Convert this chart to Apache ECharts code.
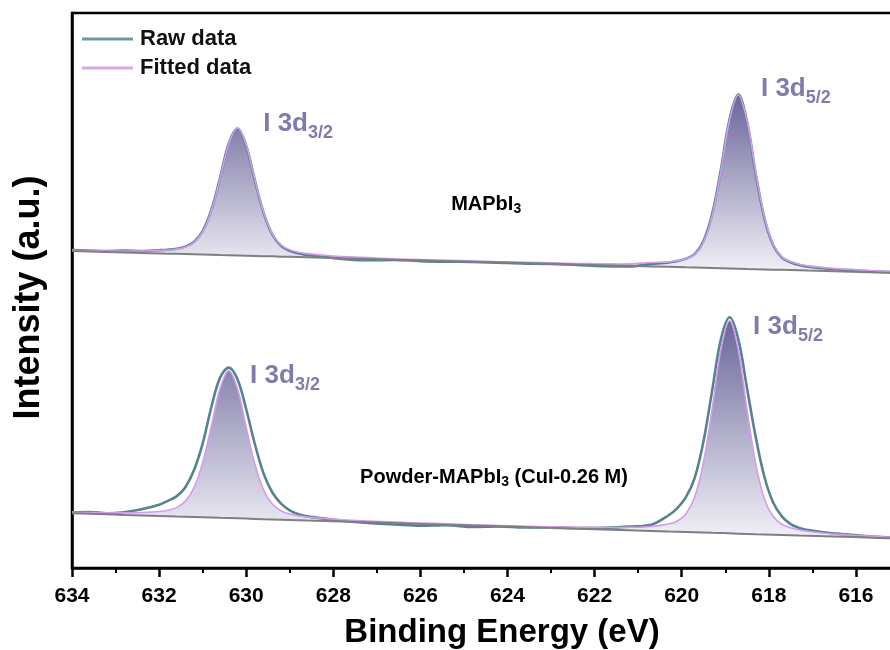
<!DOCTYPE html>
<html>
<head>
<meta charset="utf-8">
<script src="https://cdn.jsdelivr.net/npm/echarts@6/dist/echarts.min.js"></script>
<style>
  html, body { margin: 0; padding: 0; background: #fff; overflow: hidden; width: 890px; height: 650px; }
  /* the plot frame runs past the right edge of the page, as in the original figure */
  #chart { width: 943px; height: 650px; }
</style>
</head>
<body>
<div id="chart"></div>
<script>
// I 3d core-level XPS spectra: binding energy grid (eV)
const energy = [
  634.0, 633.6, 633.2, 632.8, 632.4, 632.0, 631.8, 631.6, 631.4, 631.2,
  631.0, 630.8, 630.6, 630.4, 630.2, 630.0, 629.8, 629.6, 629.4, 629.2,
  629.0, 628.8, 628.6, 628.2, 627.8, 627.2, 626.6, 626.0, 625.4, 624.8,
  624.2, 623.6, 623.0, 622.4, 621.8, 621.2, 620.7, 620.3, 620.1, 619.9,
  619.7, 619.5, 619.3, 619.1, 618.9, 618.7, 618.5, 618.3, 618.1, 617.9,
  617.7, 617.5, 617.3, 617.1, 616.7, 616.3, 615.9, 615.5, 615.0
];

// MAPbI3 (offset trace)
const rawTop = [
  57.30, 57.22, 57.10, 57.18, 57.12, 57.26, 57.35, 57.52, 57.90, 58.75,
  60.70, 64.50, 70.30, 76.50, 79.20, 76.10, 69.80, 64.00, 60.10, 58.05,
  57.15, 56.70, 56.40, 56.05, 55.70, 55.45, 55.50, 55.30, 55.20, 55.15,
  55.00, 54.85, 54.80, 54.60, 54.40, 54.35, 54.75, 55.05, 55.30, 55.75,
  56.55, 58.90, 63.80, 71.80, 80.90, 85.30, 80.40, 71.00, 63.00, 58.20,
  55.95, 55.10, 54.60, 54.30, 53.95, 53.75, 53.60, 53.40, 53.30
];
const fitTop = [
  57.23, 57.18, 57.13, 57.12, 57.13, 57.20, 57.29, 57.46, 57.81, 58.63,
  60.56, 64.34, 70.12, 76.36, 79.31, 76.27, 69.95, 64.08, 60.22, 58.22,
  57.32, 56.89, 56.64, 56.34, 56.13, 55.92, 55.72, 55.56, 55.45, 55.31,
  55.19, 55.07, 54.97, 54.87, 54.81, 54.79, 55.04, 55.16, 55.37, 55.72,
  56.47, 58.69, 63.49, 71.48, 80.68, 85.23, 80.59, 71.31, 63.24, 58.36,
  56.06, 55.18, 54.74, 54.44, 54.11, 53.88, 53.68, 53.52, 53.38
];
const bgTop = [
  57.10, 57.02, 56.93, 56.85, 56.77, 56.68, 56.64, 56.60, 56.56, 56.52,
  56.48, 56.44, 56.39, 56.35, 56.31, 56.27, 56.23, 56.19, 56.15, 56.10,
  56.06, 56.02, 55.98, 55.90, 55.81, 55.69, 55.56, 55.44, 55.32, 55.19,
  55.07, 54.94, 54.82, 54.69, 54.57, 54.44, 54.34, 54.26, 54.22, 54.17,
  54.13, 54.09, 54.05, 54.01, 53.97, 53.93, 53.88, 53.84, 53.80, 53.76,
  53.72, 53.68, 53.64, 53.59, 53.51, 53.43, 53.35, 53.26, 53.16
];

// Powder-MAPbI3 (CuI-0.26 M)
const rawBottom = [
  10.05, 10.10, 9.85, 10.05, 10.60, 11.40, 12.10, 12.90, 14.50, 17.60,
  22.40, 29.00, 34.30, 36.10, 34.00, 28.60, 22.30, 17.00, 13.60, 11.60,
  10.40, 9.70, 9.30, 8.90, 8.50, 8.10, 7.85, 7.60, 7.70, 7.40,
  7.50, 7.30, 7.35, 7.20, 7.25, 7.45, 7.80, 9.50, 10.80, 12.80,
  16.30, 22.80, 32.00, 41.20, 45.17, 41.20, 32.40, 23.60, 16.40, 11.80,
  9.30, 7.90, 7.20, 6.85, 6.40, 6.10, 5.85, 5.60, 5.42
];
const fitBottom = [
  10.03, 9.97, 9.95, 9.94, 10.01, 10.19, 10.41, 10.88, 12.00, 14.44,
  18.97, 25.55, 32.39, 35.55, 32.30, 25.36, 18.68, 14.05, 11.52, 10.31,
  9.74, 9.42, 9.20, 8.91, 8.69, 8.47, 8.28, 8.11, 7.96, 7.80,
  7.66, 7.53, 7.43, 7.35, 7.29, 7.33, 7.49, 7.92, 8.47, 9.76,
  12.83, 19.01, 28.72, 39.42, 44.56, 39.32, 28.53, 18.72, 12.45, 9.28,
  7.89, 7.25, 6.87, 6.63, 6.27, 6.02, 5.83, 5.66, 5.50
];
const bgBottom = [
  9.86, 9.76, 9.67, 9.57, 9.48, 9.38, 9.33, 9.28, 9.24, 9.19,
  9.14, 9.09, 9.04, 9.00, 8.95, 8.90, 8.85, 8.80, 8.76, 8.71,
  8.66, 8.61, 8.56, 8.47, 8.37, 8.23, 8.09, 7.94, 7.80, 7.65,
  7.51, 7.37, 7.22, 7.08, 6.93, 6.79, 6.67, 6.57, 6.53, 6.48,
  6.43, 6.38, 6.33, 6.29, 6.24, 6.19, 6.14, 6.09, 6.05, 6.00,
  5.95, 5.90, 5.85, 5.81, 5.71, 5.61, 5.52, 5.42, 5.30
];

// Peak annotations: [binding energy, intensity, text, subscript]
const peakLabels = [
  [629.61, 79.6, 'I 3d', '3/2'],
  [618.18, 85.9, 'I 3d', '5/2'],
  [629.91, 34.2, 'I 3d', '3/2'],
  [618.36, 43.0, 'I 3d', '5/2']
];
// Sample names: [binding energy, intensity, text, subscript, trailing text]
const sampleLabels = [
  [624.49, 65.4, 'MAPbI', '3', ''],
  [624.31, 16.2, 'Powder-MAPbI', '3', ' (CuI-0.26 M)']
];

const FONT = 'Arial, "Liberation Sans", Helvetica, sans-serif';
const RAW_COLOR = '#56838f';
const FIT_COLOR = '#d39cee';
const BG_COLOR = '#7f7f7f';
const PEAK_TEXT = '#5e5a98';
const SMOOTH = 0.35;

const rows = (fit, bg) => energy.map((e, i) => [e, fit[i], bg[i]]);
const pairs = ys => energy.map((e, i) => [e, ys[i]]);

// Filled envelope between the fitted curve and the background
function fillSeries(key, fit, bg) {
  return {
    type: 'custom', name: 'fill-' + key, silent: true, z: 1, clip: true,
    data: rows(fit, bg),
    encode: { x: 0, y: [1, 2] },
    renderItem(params, api) {
      if (params.dataIndex !== 0) return null;
      const upper = energy.map((e, i) => api.coord([e, fit[i]]));
      const lower = energy.map((e, i) => api.coord([e, bg[i]])).reverse();
      return {
        type: 'polygon',
        shape: { points: upper.concat(lower), smooth: SMOOTH },
        style: {
          fill: new echarts.graphic.LinearGradient(0, 0, 0, 1, [
            { offset: 0, color: '#6a6699' },
            { offset: 1, color: '#f2f1f7' }
          ])
        }
      };
    }
  };
}

// Fitted envelope line
function fitSeries(key, fit) {
  return {
    type: 'custom', name: 'Fitted data', silent: true, z: 4, clip: true,
    data: pairs(fit),
    encode: { x: 0, y: 1 },
    itemStyle: { color: FIT_COLOR },
    renderItem(params, api) {
      if (params.dataIndex !== 0) return null;
      return {
        type: 'polyline',
        shape: { points: energy.map((e, i) => api.coord([e, fit[i]])), smooth: SMOOTH },
        style: { stroke: FIT_COLOR, lineWidth: 1.6, fill: null }
      };
    }
  };
}

function rawSeries(raw) {
  return {
    type: 'line', name: 'Raw data', data: pairs(raw),
    symbol: 'none', smooth: SMOOTH, silent: true, z: 3,
    lineStyle: { color: RAW_COLOR, width: 2.6 }
  };
}

function bgSeries(key, bg) {
  return {
    type: 'line', name: 'bg-' + key, data: pairs(bg),
    symbol: 'none', silent: true, z: 5,
    lineStyle: { color: BG_COLOR, width: 2 }
  };
}

const plainText = (size, color, extra) => Object.assign({
  fontSize: size, fontWeight: 'bold', color: color, fontFamily: FONT,
  textBorderWidth: 0, textShadowBlur: 0
}, extra);

const labelSeries = {
  type: 'scatter', silent: true, z: 10, symbolSize: 0,
  itemStyle: { color: 'transparent' },
  data: peakLabels.map(p => ({
    value: [p[0], p[1]],
    label: {
      show: true, position: 'right', distance: 0, textBorderWidth: 0,
      formatter: '{m|' + p[2] + '}{s|' + p[3] + '}',
      rich: {
        m: plainText(26, PEAK_TEXT, { verticalAlign: 'top' }),
        s: plainText(18, PEAK_TEXT, { verticalAlign: 'bottom', padding: [13, 0, 0, 0] })
      }
    }
  })).concat(sampleLabels.map(p => ({
    value: [p[0], p[1]],
    label: {
      show: true, position: [0, 0], align: 'center', verticalAlign: 'middle',
      color: '#000', textBorderWidth: 0, opacity: 1,
      formatter: '{m|' + p[2] + '}{s|' + p[3] + '}' + (p[4] ? '{m|' + p[4] + '}' : ''),
      rich: {
        m: plainText(20, '#000', { verticalAlign: 'top' }),
        s: plainText(14, '#000', { verticalAlign: 'bottom', padding: [8, 0, 0, 0] })
      }
    }
  })))
};

const chart = echarts.init(document.getElementById('chart'), null, { renderer: 'canvas' });
chart.setOption({
  animation: false,
  backgroundColor: '#fff',
  grid: {
    left: 72, right: 0, top: 13, bottom: 82,
    outerBoundsMode: 'none', containLabel: false,
    show: true, borderColor: '#000', borderWidth: 2.5, backgroundColor: 'transparent'
  },
  legend: {
    orient: 'vertical', left: 82, top: 28, padding: 0,
    itemWidth: 51, itemHeight: 3, itemGap: 7,
    data: [
      { name: 'Raw data', icon: 'rect', itemStyle: { color: '#7096a6' } },
      { name: 'Fitted data', icon: 'rect', itemStyle: { color: '#d6a6f0' } }
    ],
    textStyle: { fontSize: 22, fontWeight: 'bold', color: '#111', fontFamily: FONT, padding: [0, 0, 0, 2] }
  },
  xAxis: {
    type: 'value', inverse: true, min: 614, max: 634, interval: 2,
    axisLine: { show: true, onZero: false, lineStyle: { color: '#000', width: 2.5 } },
    axisTick: { show: true, inside: false, length: 9, lineStyle: { color: '#000', width: 2.5 } },
    minorTick: { show: true, splitNumber: 2, length: 5, lineStyle: { color: '#000', width: 2 } },
    splitLine: { show: false },
    axisLabel: { fontSize: 21, fontWeight: 'bold', color: '#000', margin: 18, fontFamily: FONT, showMinLabel: false },
    name: 'Binding Energy (eV)', nameLocation: 'middle', nameGap: 48,
    nameTextStyle: { fontSize: 33, fontWeight: 'bold', color: '#000', fontFamily: FONT, padding: [0, 11, 0, 0] }
  },
  yAxis: {
    type: 'value', min: 0, max: 100,
    axisLine: { show: true, lineStyle: { color: '#000', width: 2.5 } },
    axisTick: { show: false }, axisLabel: { show: false }, splitLine: { show: false },
    name: 'Intensity (a.u.)', nameLocation: 'middle', nameGap: 25,
    nameTextStyle: { fontSize: 36, fontWeight: 'bold', color: '#000', fontFamily: FONT, padding: [0, 14, 0, 0] }
  },
  series: [
    fillSeries('top', fitTop, bgTop),
    fillSeries('bottom', fitBottom, bgBottom),
    rawSeries(rawTop),
    rawSeries(rawBottom),
    fitSeries('top', fitTop),
    fitSeries('bottom', fitBottom),
    bgSeries('top', bgTop),
    bgSeries('bottom', bgBottom),
    labelSeries
  ]
});
</script>
</body>
</html>
